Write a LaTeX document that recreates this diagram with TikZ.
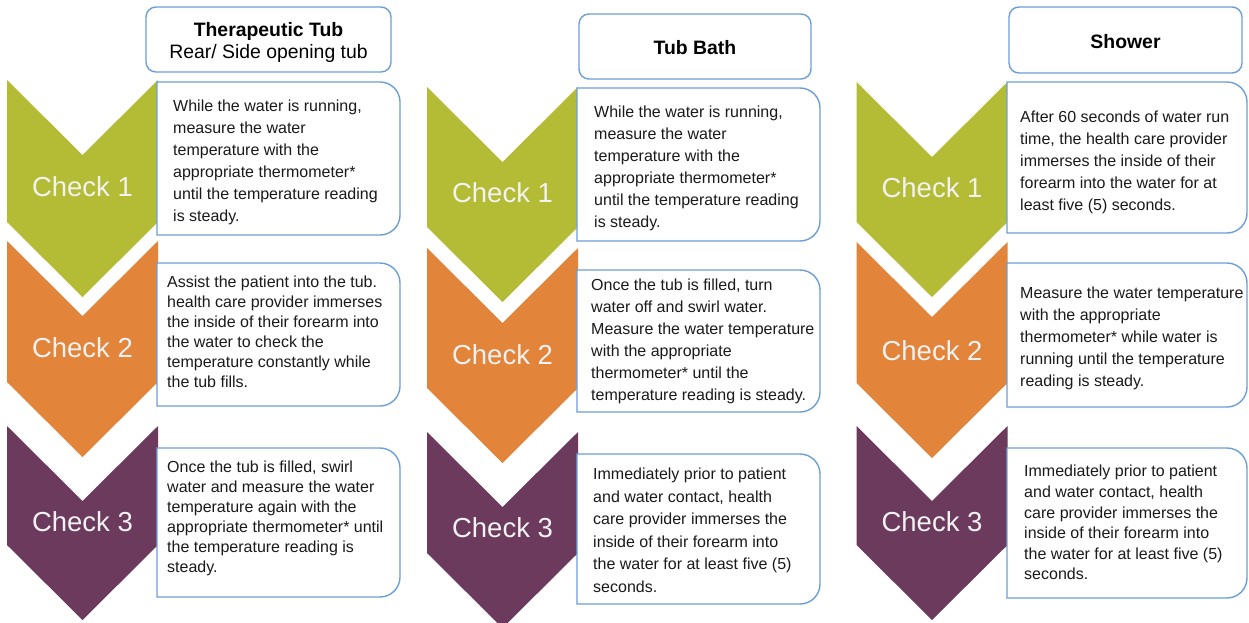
\documentclass[tikz,border=0pt]{standalone}
\usepackage{fontspec}
\setmainfont{Liberation Sans}
\definecolor{chkgreen}{HTML}{B4BC35}
\definecolor{chkorange}{HTML}{E2843A}
\definecolor{chkpurple}{HTML}{6B3A5C}
\definecolor{boxblue}{HTML}{6C9FD6}
\definecolor{bodytext}{HTML}{1A1A1A}
\newcommand{\chevshape}[4]{\fill[#1] ({#2-75.5},#3) -- (#2,{#3+75}) -- ({#2+75.5},#3) -- ({#2+75.5},#4) -- (#2,{#4+75}) -- ({#2-75.5},#4) -- cycle;}
\newcommand{\rbox}[4]{\draw[boxline] (#1,#2) -- ({#3-20},#2) arc[start angle=-90,end angle=0,radius=20] -- (#3,{#4-20}) arc[start angle=0,end angle=90,radius=20] -- (#1,#4) -- cycle;}
\begin{document}
\begin{tikzpicture}[x=1pt,y=-1pt,
  boxline/.style={draw=boxblue,line width=1.4pt,fill=white},
  txt/.style={anchor=north west,inner sep=0pt,align=left,text=bodytext,font={\fontsize{16}{22}\selectfont}},
  txttight/.style={txt,font={\fontsize{16}{20}\selectfont}},
  txtwide/.style={txt,font={\fontsize{16}{22.5}\selectfont}},
  txtnarrow/.style={txt,font={\fontsize{16}{20.6}\selectfont}},
  chk/.style={inner sep=0pt,text=white!95!black,font={\fontsize{27.5}{30}\selectfont}},
  hdr/.style={draw=boxblue,line width=1.4pt,rounded corners=10pt,fill=white,inner sep=0pt},
  hdrtext/.style={align=center,text=black,font={\fontsize{19.4}{22}\selectfont},inner sep=0pt}]
\useasboundingbox (0,0) rectangle (1249,622);
\fill[white] (0,0) rectangle (1249,622);
% column 1 chevrons
\chevshape{chkgreen}{82.5}{80}{222}
\chevshape{chkorange}{82.5}{241}{382}
\chevshape{chkpurple}{82.5}{426}{545}
% column 2 chevrons
\chevshape{chkgreen}{502.5}{87}{227}
\chevshape{chkorange}{502.5}{248}{388}
\chevshape{chkpurple}{502.5}{432}{553}
% column 3 chevrons
\chevshape{chkgreen}{932}{82}{222}
\chevshape{chkorange}{932}{242}{383}
\chevshape{chkpurple}{932}{426}{545}
% boxes
\rbox{157}{82}{400}{235}
\rbox{157}{263}{400}{406}
\rbox{157}{448}{400}{597}
\rbox{577}{88}{820}{241}
\rbox{577}{270}{820}{412}
\rbox{577}{454}{820}{604}
\rbox{1007}{82}{1247}{233}
\rbox{1007}{263}{1247}{407}
\rbox{1007}{448}{1247}{598}
% headers
\node[hdr,minimum width=245pt,minimum height=65pt] (h1) at (268.5,39.5) {};
\node[hdr,minimum width=232pt,minimum height=65pt] (h2) at (695,46.5) {};
\node[hdr,minimum width=233pt,minimum height=66pt] (h3) at (1125.5,40) {};
\node[hdrtext] (h1t) at (268.5,42.5) {\textbf{Therapeutic Tub}\\Rear/ Side opening tub};
\node[hdrtext] (h2t) at (695,47.5) {\textbf{Tub Bath}};
\node[hdrtext] (h3t) at (1125.5,42) {\textbf{Shower}};
% check labels
\node[chk] (c11) at (82.5,187) {Check 1};
\node[chk] (c12) at (82.5,348) {Check 2};
\node[chk] (c13) at (82.5,522) {Check 3};
\node[chk] (c21) at (502.5,193) {Check 1};
\node[chk] (c22) at (502.5,355) {Check 2};
\node[chk] (c23) at (502.5,528) {Check 3};
\node[chk] (c31) at (932,188) {Check 1};
\node[chk] (c32) at (932,351) {Check 2};
\node[chk] (c33) at (932,522) {Check 3};
% texts
\node[txt] (t11) at (173,100) {While the water is running,\\measure the water\\temperature with the\\appropriate thermometer*\\until the temperature reading\\is steady.};
\node[txttight] (t12) at (167,276) {Assist the patient into the tub.\\health care provider immerses\\the inside of their forearm into\\the water to check the\\temperature constantly while\\the tub fills.};
\node[txttight] (t13) at (167,461) {Once the tub is filled, swirl\\water and measure the water\\temperature again with the\\appropriate thermometer* until\\the temperature reading is\\steady.};
\node[txt] (t21) at (594,106) {While the water is running,\\measure the water\\temperature with the\\appropriate thermometer*\\until the temperature reading\\is steady.};
\node[txt] (t22) at (591,279) {Once the tub is filled, turn\\water off and swirl water.\\Measure the water temperature\\with the appropriate\\thermometer* until the\\temperature reading is steady.};
\node[txtwide] (t23) at (593,468) {Immediately prior to patient\\and water contact, health\\care provider immerses the\\inside of their forearm into\\the water for at least five (5)\\seconds.};
\node[txt] (t31) at (1020,111) {After 60 seconds of water run\\time, the health care provider\\immerses the inside of their\\forearm into the water for at\\least five (5) seconds.};
\node[txt] (t32) at (1020,287) {Measure the water temperature\\with the appropriate\\thermometer* while water is\\running until the temperature\\reading is steady.};
\node[txtnarrow] (t33) at (1024,465) {Immediately prior to patient\\and water contact, health\\care provider immerses the\\inside of their forearm into\\the water for at least five (5)\\seconds.};
\end{tikzpicture}
\end{document}
